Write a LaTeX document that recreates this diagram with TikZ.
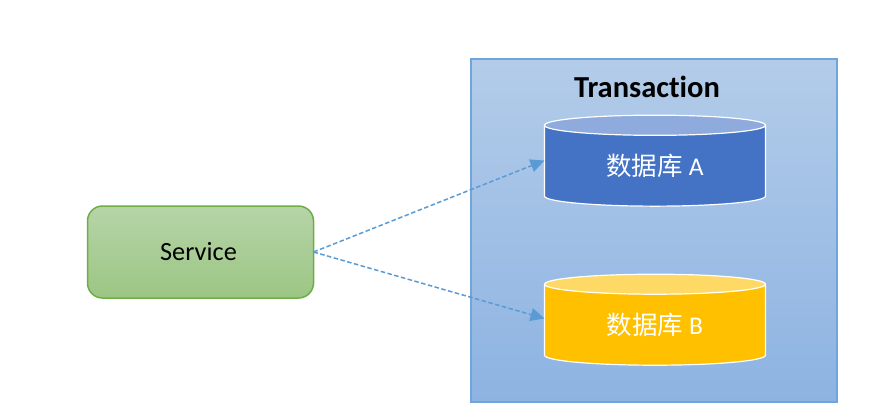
\documentclass[tikz,border=0pt]{standalone}
\usepackage{fontspec}
\setmainfont[Ligatures=NoCommon]{Carlito}
\newfontfamily\cjk{Noto Sans CJK SC}
\usetikzlibrary{shapes.geometric,arrows.meta}
\definecolor{frameblue}{HTML}{6FA5DB}
\definecolor{flowblue}{HTML}{5B9BD5}
\definecolor{boxtop}{HTML}{B3CCE9}
\definecolor{boxbot}{HTML}{8DB3E2}
\definecolor{svctop}{HTML}{B6D4A8}
\definecolor{svcbot}{HTML}{9CC684}
\definecolor{svcline}{HTML}{70AD47}
\definecolor{dbabody}{HTML}{4472C4}
\definecolor{dbatop}{HTML}{8FAADC}
\definecolor{dbbbody}{HTML}{FFC000}
\definecolor{dbbtop}{HTML}{FFD966}
\tikzset{
  dbcyl/.style={cylinder,shape border rotate=90,aspect=0.208,draw=white,line width=1.2pt,
    minimum width=221pt,minimum height=91pt,outer sep=0pt,inner sep=0pt,cylinder uses custom fill,
    text=white,font={\fontsize{25.5}{28}\selectfont}},
  flow/.style={draw=flowblue,line width=1.5pt,dash pattern=on 4.5pt off 2.5pt,
    -{Triangle[length=14pt,width=13pt,fill=flowblue]}}
}
\begin{document}
\begin{tikzpicture}[x=1pt,y=-1pt]
\useasboundingbox (0,0) rectangle (889,408);
\fill[white] (0,0) rectangle (889,408);
\node[draw=frameblue,line width=1.5pt,top color=boxtop,bottom color=boxbot,middle color=boxtop!50!boxbot,
  minimum width=366pt,minimum height=343pt,outer sep=0pt,inner sep=0pt] (tx) at (654,230.5) {};
\node[font={\bfseries\fontsize{30.5}{32}\selectfont},text=black,inner sep=0pt] (txl) at (647,87) {Transaction};
\node[dbcyl,cylinder body fill=dbabody,cylinder end fill=dbatop] (dba) at (655,166) {{\cjk 数据库} A};
\node[dbcyl,cylinder body fill=dbbbody,cylinder end fill=dbbtop] (dbb) at (655,325) {{\cjk 数据库} B};
\node[draw=svcline,line width=1.5pt,rounded corners=15pt,top color=svctop,bottom color=svcbot,
  minimum width=226pt,minimum height=92pt,outer sep=0pt,inner sep=0pt,
  font={\fontsize{26.3}{28}\selectfont},text=black] (svc) at (200.5,252) {\hspace*{-4pt}Service};
\draw[flow] (svc.east) -- ([yshift=5.5pt]dba.west);
\draw[flow] (svc.east) -- ([yshift=6.5pt]dbb.west);
\end{tikzpicture}
\end{document}
